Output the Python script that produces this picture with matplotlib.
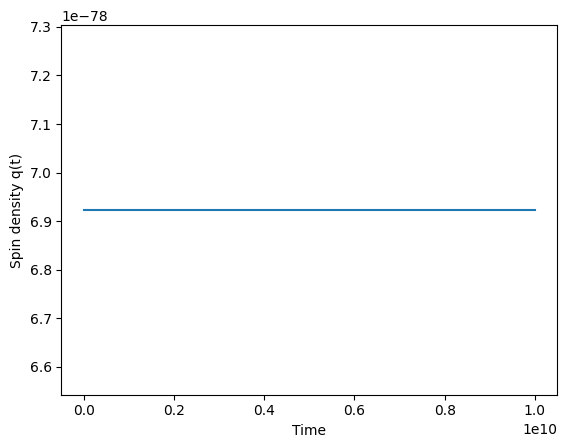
import matplotlib
matplotlib.use("Agg")
import matplotlib.pyplot as plt

# sampled times and spin density (constant)
time = [0.0, 2.5e9, 5.0e9, 7.5e9, 1.0e10]
spin_density = [6.923e-78, 6.923e-78, 6.923e-78, 6.923e-78, 6.923e-78]

fig, ax = plt.subplots(figsize=(6.4, 4.8))
ax.plot(time, spin_density)
ax.set_xlabel("Time")
ax.set_ylabel("Spin density q(t)")
fig.savefig("out.png", dpi=100, bbox_inches="tight")
